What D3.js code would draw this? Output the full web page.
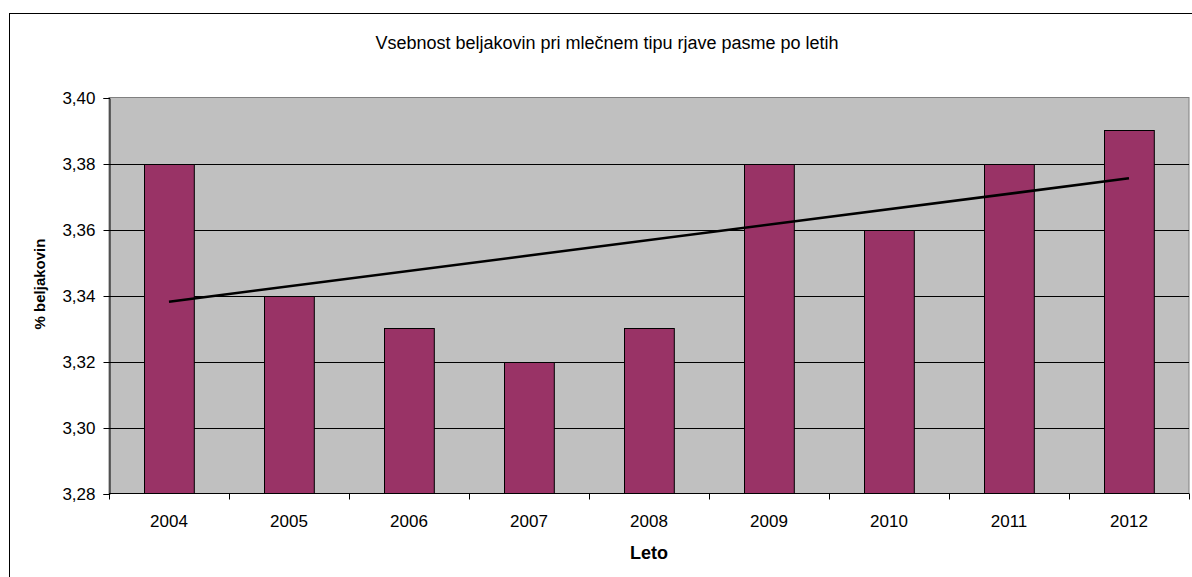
<!DOCTYPE html>
<html lang="sl">
<head>
  <meta charset="UTF-8">
  <title>Vsebnost beljakovin</title>
  <script src="https://d3js.org/d3.v7.min.js"></script>
  <style>
    body { margin: 0; background: #fff; }
    svg { display: block; font-family: "Liberation Sans", Arial, sans-serif; }
    .tick text { font-size: 17px; fill: #000; }
  </style>
</head>
<body>
  <svg width="1192" height="577"></svg>
  <script>
    const years = ["2004", "2005", "2006", "2007", "2008", "2009", "2010", "2011", "2012"];
    const protein = [3.38, 3.34, 3.33, 3.32, 3.33, 3.38, 3.36, 3.38, 3.39];
    // trend line end points
    const trend = [{year: "2004", value: 3.3381}, {year: "2012", value: 3.3755}];
    const yTicks = [3.28, 3.30, 3.32, 3.34, 3.36, 3.38, 3.40];

    const svg = d3.select("svg");
    const plot = {left: 109, top: 97.5, right: 1189, bottom: 493.5};

    // outer chart frame
    svg.append("rect")
      .attr("x", 9.5).attr("y", 13.5)
      .attr("width", 1300).attr("height", 700)
      .attr("fill", "#fff").attr("stroke", "#000");

    const x = d3.scaleBand().domain(years).range([plot.left, plot.right]).paddingInner(0.585).paddingOuter(0.2925);
    const xEdge = d3.scaleBand().domain(years).range([plot.left, plot.right]);
    const y = d3.scaleLinear().domain([3.28, 3.40]).range([plot.bottom, plot.top]);

    svg.append("rect")
      .attr("x", plot.left).attr("y", plot.top)
      .attr("width", plot.right - plot.left).attr("height", plot.bottom - plot.top)
      .attr("fill", "#c0c0c0").attr("stroke", "#808080");

    // gridlines
    svg.append("g").selectAll("line")
      .data(yTicks.slice(1, -1))
      .join("line")
      .attr("x1", plot.left).attr("x2", plot.right)
      .attr("y1", d => Math.round(y(d)) + 0.5).attr("y2", d => Math.round(y(d)) + 0.5)
      .attr("stroke", "#000").attr("stroke-width", 1);

    svg.append("g").selectAll("rect")
      .data(years.map((yr, i) => ({yr, v: protein[i]})))
      .join("rect")
      .attr("x", d => Math.round(x(d.yr)) + 0.5)
      .attr("y", d => Math.round(y(d.v)) + 0.5)
      .attr("width", x.bandwidth())
      .attr("height", d => plot.bottom - Math.round(y(d.v)) - 0.5)
      .attr("fill", "#993366").attr("stroke", "#000").attr("stroke-width", 1);

    svg.append("path")
      .datum(trend)
      .attr("d", d3.line().x(d => x(d.year) + x.bandwidth() / 2).y(d => y(d.value)))
      .attr("stroke", "#000").attr("stroke-width", 2.5).attr("fill", "none");

    // y axis
    const yAxis = svg.append("g")
      .attr("transform", `translate(${plot.left + 0.5},0.5)`)
      .call(d3.axisLeft(y).tickValues(yTicks).tickSize(6).tickPadding(8)
        .tickFormat(d => d3.format(".2f")(d).replace(".", ",")));
    yAxis.select(".domain").attr("stroke", "#000");
    yAxis.selectAll(".tick line").attr("stroke", "#000");

    // x axis: ticks sit between categories
    const xAxis = svg.append("g").attr("transform", `translate(0,${plot.bottom})`);
    xAxis.append("line")
      .attr("x1", plot.left).attr("x2", plot.right)
      .attr("stroke", "#000");
    xAxis.selectAll(".edge")
      .data(years.concat(["end"]))
      .join("line")
      .attr("x1", (d, i) => Math.round(plot.left + i * xEdge.step()) + 0.5)
      .attr("x2", (d, i) => Math.round(plot.left + i * xEdge.step()) + 0.5)
      .attr("y1", 0).attr("y2", 6)
      .attr("stroke", "#000");
    xAxis.selectAll("text")
      .data(years)
      .join("text")
      .attr("x", d => xEdge(d) + xEdge.bandwidth() / 2)
      .attr("y", 33)
      .attr("text-anchor", "middle")
      .attr("font-size", 17)
      .text(d => d);

    svg.append("text")
      .attr("x", 607).attr("y", 49)
      .attr("text-anchor", "middle")
      .attr("font-size", 18)
      .text("Vsebnost beljakovin pri mlečnem tipu rjave pasme po letih");

    svg.append("text")
      .attr("x", (plot.left + plot.right) / 2).attr("y", 559)
      .attr("text-anchor", "middle")
      .attr("font-size", 18).attr("font-weight", "bold")
      .text("Leto");

    svg.append("text")
      .attr("transform", `translate(45,284) rotate(-90)`)
      .attr("text-anchor", "middle")
      .attr("font-size", 15).attr("font-weight", "bold")
      .text("% beljakovin");
  </script>
</body>
</html>
